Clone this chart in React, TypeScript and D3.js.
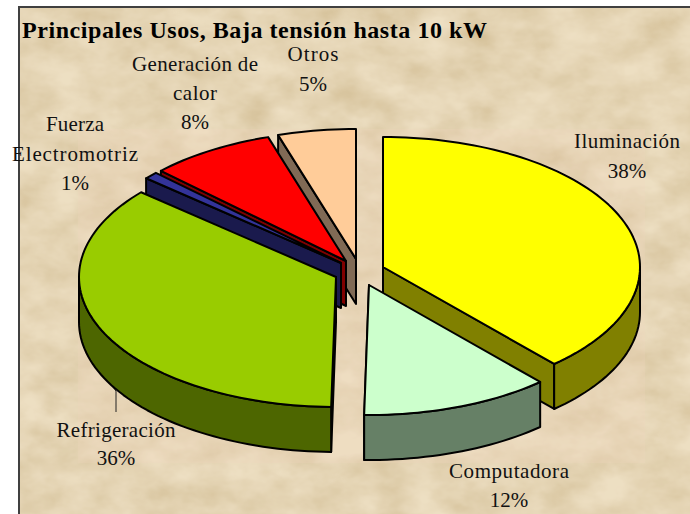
import React from "react";
import * as d3 from "d3";

const categories = ["Iluminación", "Computadora", "Refrigeración", "Fuerza Electromotriz", "Generación de calor", "Otros"];
const values = [38.4, 11.9, 36.0, 0.9, 7.9, 4.9];
const topColors = ["#ffff00", "#ccffcc", "#99cc00", "#333399", "#ff0000", "#ffcc99"];
const wallColors = ["#808000", "#668066", "#4d6600", "#1a1a4d", "#800000", "#806a55"];
const apexX = [383, 369, 336, 341, 346, 356];
const apexY = [267, 285, 277, 263, 261, 259];
const labelLines = [
  ["Iluminación", "38%"],
  ["Computadora", "12%"],
  ["Refrigeración", "36%"],
  ["Fuerza", "Electromotriz", "1%"],
  ["Generación de", "calor", "8%"],
  ["Otros", "5%"],
];
const labelCx = [627, 509, 116, 75, 195, 313];
const labelY = [148, 478, 437, 131, 71, 61];
const labelStep = [30, 29, 28, 29.5, 29, 30];
const labelW: Record<string, number> = {
  "Iluminación": 106, "Computadora": 120, "Refrigeración": 119, "Fuerza": 58, "Electromotriz": 126,
  "Generación de": 126, "calor": 44, "Otros": 51,
};
const drawOrder = [5, 4, 3, 2, 0, 1];

const RX = 257, RY = 130, DEPTH = 45;
const sx = d3.scaleLinear().domain([-1, 1]).range([-RX, RX]);
const sy = d3.scaleLinear().domain([-1, 1]).range([-RY, RY]);
const pieGen = d3.pie<number>().sort(null).value((d) => d);
const arcs = pieGen(values);
const lineGen = d3.line<[number, number]>();

function pt(i: number, a: number, dz = 0): [number, number] {
  return [apexX[i] + sx(Math.sin(a)), apexY[i] + sy(-Math.cos(a)) + dz];
}
function samples(a0: number, a1: number) {
  const n = Math.max(2, Math.ceil(Math.abs(a1 - a0) / 0.03));
  return d3.range(n + 1).map((k) => a0 + ((a1 - a0) * k) / n);
}

export default function App() {
  const PI = Math.PI;
  return (
    <svg width={690} height={514} style={{ position: "absolute", left: 0, top: 0, background: "#fff" }}>
      <defs>
        <filter id="parch" x="0" y="0" width="100%" height="100%">
          <feTurbulence type="fractalNoise" baseFrequency="0.022 0.035" numOctaves={4} seed={7} result="n" />
          <feColorMatrix in="n" type="matrix" values="0 0 0 0 0.62  0 0 0 0 0.48  0 0 0 0 0.26  0.9 0.6 0 0 -0.45" result="d" />
          <feFlood floodColor="#eddfc2" result="b" />
          <feMerge>
            <feMergeNode in="b" />
            <feMergeNode in="d" />
          </feMerge>
        </filter>
      </defs>
      <rect x={18} y={6} width={672} height={508} fill="#eddfc2" filter="url(#parch)" />
      <rect x={78} y={129} width={567} height={334} fill="#f0d8c0" opacity={0.22} />
      <path d="M19 514V7H690" fill="none" stroke="#404040" strokeWidth={2} />
      <text x={22} y={38} fontFamily="'Liberation Serif'" fontWeight="bold" fontSize={24} fill="#000" textLength={465} lengthAdjust="spacing">
        Principales Usos, Baja tensión hasta 10 kW
      </text>
      <path d="M112 386L116 391V412" fill="none" stroke="#222" strokeWidth={1} />
      {drawOrder.map((i) => {
        const { startAngle: a0, endAngle: a1 } = arcs[i];
        const top = [[apexX[i], apexY[i]] as [number, number], ...samples(a0, a1).map((a) => pt(i, a))];
        const lo = Math.max(a0, PI / 2), hi = Math.min(a1, (3 * PI) / 2);
        const radial = a0 >= PI ? a0 : a1;
        const wall: [number, number][] = [
          pt(i, radial), [apexX[i], apexY[i]], [apexX[i], apexY[i] + DEPTH], pt(i, radial, DEPTH),
        ];
        const outer: [number, number][] | null = hi > lo
          ? [...samples(lo, hi).map((a) => pt(i, a)), ...samples(hi, lo).map((a) => pt(i, a, DEPTH))]
          : null;
        return (
          <g key={categories[i]} stroke="#000" strokeWidth={2} strokeLinejoin="round">
            <path d={lineGen(wall)! + "Z"} fill={wallColors[i]} />
            {outer && <path d={lineGen(outer)! + "Z"} fill={wallColors[i]} />}
            <path d={lineGen(top)! + "Z"} fill={topColors[i]} />
          </g>
        );
      })}
      {labelLines.map((lines, i) =>
        lines.map((t, k) => (
          <text key={t} x={labelCx[i]} y={labelY[i] + k * labelStep[i]} textAnchor="middle" fontFamily="'Liberation Serif'" fontSize={21} fill="#111" textLength={labelW[t]} lengthAdjust="spacing">
            {t}
          </text>
        ))
      )}
    </svg>
  );
}
